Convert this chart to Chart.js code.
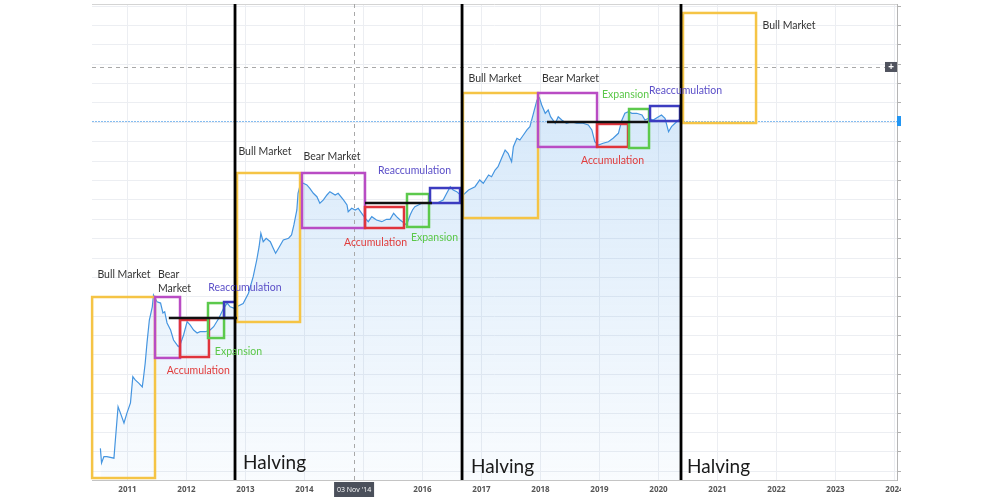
<!DOCTYPE html>
<html><head><meta charset="utf-8">
<script src="https://cdn.jsdelivr.net/npm/chart.js@4.4.0/dist/chart.umd.min.js"></script>
<style>html,body{margin:0;padding:0;background:#fff}#wrap{width:1000px;height:500px}</style>
</head><body><div id="wrap"><canvas id="c" width="1000" height="500"></canvas></div>
<script>
// ---- data (decimal year, price in USD, log scale) ----
const years = [2010.54,2010.56,2010.60,2010.65,2010.77,2010.79,2010.84,2010.88,2010.94,2010.99,
2011.05,2011.09,2011.13,2011.19,2011.25,2011.27,2011.30,2011.33,2011.37,2011.42,2011.44,2011.50,2011.56,2011.60,2011.63,2011.67,2011.73,2011.78,2011.86,2011.89,2011.95,
2012.01,2012.06,2012.12,2012.18,2012.23,2012.32,2012.40,2012.46,2012.55,2012.63,2012.69,2012.74,2012.80,2012.85,2012.96,
2013.05,2013.13,2013.19,2013.23,2013.26,2013.30,2013.35,2013.42,2013.47,2013.51,2013.56,2013.64,2013.73,2013.78,2013.82,2013.87,2013.89,2013.94,2013.98,
2014.04,2014.09,2014.15,2014.21,2014.26,2014.32,2014.38,2014.43,2014.52,2014.57,2014.66,2014.72,2014.74,2014.80,2014.86,2014.91,2014.97,
2015.03,2015.08,2015.14,2015.22,2015.31,2015.39,2015.45,2015.51,2015.56,2015.62,2015.66,2015.73,2015.79,2015.83,2015.87,2015.93,2015.99,
2016.04,2016.13,2016.24,2016.35,2016.41,2016.47,2016.52,2016.58,2016.64,2016.69,2016.78,2016.89,2016.97,
2017.03,2017.12,2017.17,2017.23,2017.28,2017.34,2017.40,2017.45,2017.51,2017.54,2017.60,2017.65,2017.71,2017.77,2017.82,2017.88,2017.94,2017.98,
2018.02,2018.08,2018.13,2018.17,2018.25,2018.30,2018.36,2018.44,2018.53,2018.61,2018.72,2018.81,2018.87,2018.92,2018.98,
2019.06,2019.15,2019.23,2019.32,2019.38,2019.43,2019.49,2019.55,2019.63,2019.72,2019.77,2019.83,2019.91,2020.00,
2020.05,2020.11,2020.17,2020.22,2020.28,2020.34,2020.37];
const prices = [0.071,0.042,0.053,0.053,0.050,0.086,0.315,0.25,0.176,0.25,
0.36,0.92,0.82,0.73,0.64,0.88,1.50,3.07,6.98,11.2,17.1,13.4,12.8,8.98,9.4,6.28,4.89,3.42,2.69,2.86,4.09,
6.58,5.85,4.89,4.39,4.60,4.60,4.89,5.50,7.50,10.7,12.8,11.2,10.7,11.2,12.6,
18.2,32.9,59.7,96,155,115,130,115,91,76,91,122,130,146,209,357,649,982,927,
873,775,649,574,454,511,610,687,610,649,511,427,336,379,357,379,317,
265,235,281,250,235,256,256,317,281,250,235,209,299,357,402,427,454,
454,454,454,511,649,821,730,687,610,610,730,821,1043,
927,1247,1174,1492,1678,2266,3050,2710,2008,3430,4630,4355,5210,6237,7015,11320,18230,19800,
15240,11320,12740,10020,7925,10020,8918,7925,8400,7925,7925,7450,6237,4100,3645,
3875,4100,4630,5535,8918,11320,12000,11320,11320,10670,8918,9470,8918,10020,
10670,9470,5865,7015,7925,8918,8590];
const yearTicks = [2011,2012,2013,2014,2015,2016,2017,2018,2019,2020,2021,2022,2023,2024];
const currentPrice = 8590;
const crossYear = 2014.84, crossPrice = 59300, crossLabel = "03 Nov '14";

// ---- annotations (data coordinates) ----
const halvings = [2012.822, 2016.67, 2020.381];
const boxes = [
 {x0:2010.40,x1:2011.466,lo:0.0246,hi:15.9,c:'#f5c445'},
 {x0:2011.466,x1:2011.89,lo:1.80,hi:15.9,c:'#b94cc4'},
 {x0:2011.89,x1:2012.38,lo:1.86,hi:6.99,c:'#e0343c'},
 {x0:2012.364,x1:2012.636,lo:3.67,hi:12.8,c:'#5cc94c'},
 {x0:2012.636,x1:2012.839,lo:7.50,hi:13.3,c:'#3c3cc0'},
 {x0:2012.856,x1:2013.924,lo:6.51,hi:1340,c:'#f5c445'},
 {x0:2013.958,x1:2015.025,lo:187.5,hi:1340,c:'#b94cc4'},
 {x0:2015.025,x1:2015.686,lo:187.5,hi:397,c:'#e0343c'},
 {x0:2015.737,x1:2016.11,lo:194.5,hi:632,c:'#5cc94c'},
 {x0:2016.127,x1:2016.636,lo:458,hi:783,c:'#3c3cc0'},
 {x0:2016.686,x1:2017.958,lo:268,hi:23400,c:'#f5c445'},
 {x0:2017.958,x1:2018.958,lo:3400,hi:23400,c:'#b94cc4'},
 {x0:2018.958,x1:2019.483,lo:3400,hi:7730,c:'#e0343c'},
 {x0:2019.50,x1:2019.839,lo:3275,hi:13210,c:'#5cc94c'},
 {x0:2019.856,x1:2020.364,lo:8590,hi:14690,c:'#3c3cc0'},
 {x0:2020.415,x1:2021.653,lo:8000,hi:409000,c:'#f5c445'}
];
const levels = [
 {x0:2011.70,x1:2012.856,v:7.50},
 {x0:2015.025,x1:2016.16,v:458},
 {x0:2018.11,x1:2019.822,v:8300}
];
const DARK='#333', RE='#5b4fc8', AC='#e03c3c', EX='#5cc84a';
const notes = [
 {x:2010.94,y:34.9,t:['Bull Market'],c:DARK},
 {x:2011.517,y:34.9,t:['Bear','Market'],c:DARK,align:'left'},
 {x:2012.99,y:21.9,t:['Reaccumulation'],c:RE},
 {x:2012.20,y:1.13,t:['Accumulation'],c:AC},
 {x:2012.88,y:2.23,t:['Expansion'],c:EX},
 {x:2013.33,y:2840,t:['Bull Market'],c:DARK},
 {x:2014.466,y:2370,t:['Bear Market'],c:DARK},
 {x:2015.864,y:1440,t:['Reaccumulation'],c:RE},
 {x:2015.203,y:110,t:['Accumulation'],c:AC},
 {x:2016.203,y:131,t:['Expansion'],c:EX},
 {x:2017.229,y:38600,t:['Bull Market'],c:DARK},
 {x:2018.508,y:38600,t:['Bear Market'],c:DARK},
 {x:2019.441,y:21800,t:['Expansion'],c:EX},
 {x:2020.458,y:25100,t:['Reaccumulation'],c:RE},
 {x:2019.22,y:2055,t:['Accumulation'],c:AC},
 {x:2022.212,y:257000,t:['Bull Market'],c:DARK}
];
const halvingNotes = [
 {x:2012.958,y:0.042,t:'Halving'},
 {x:2016.822,y:0.0365,t:'Halving'},
 {x:2020.483,y:0.0365,t:'Halving'}
];

Chart.defaults.font.family = "'Open Sans', sans-serif";

const annot = {
  id:'annot',
  beforeDatasetsDraw(chart){
    const {ctx, chartArea:a} = chart;
    ctx.save();
    ctx.strokeStyle='#d4d4d4'; ctx.lineWidth=1;
    ctx.beginPath(); ctx.moveTo(a.left,a.top+0.5); ctx.lineTo(a.right,a.top+0.5); ctx.stroke();
    ctx.restore();
  },
  afterDatasetsDraw(chart){
    const {ctx, chartArea:a, scales:{x,y}} = chart;
    ctx.save();
    // current price dotted line
    const py = Math.round(y.getPixelForValue(currentPrice))+0.5;
    ctx.strokeStyle='#86bdf0'; ctx.lineWidth=1; ctx.setLineDash([2,1]);
    ctx.beginPath(); ctx.moveTo(a.left,py); ctx.lineTo(a.right,py); ctx.stroke();
    // crosshair
    const cx = Math.round(x.getPixelForValue(crossYear))+0.5, cy = Math.round(y.getPixelForValue(crossPrice))+0.5;
    ctx.strokeStyle='#a8a8a8'; ctx.setLineDash([4,4]);
    ctx.beginPath(); ctx.moveTo(cx,a.top); ctx.lineTo(cx,a.bottom); ctx.stroke();
    ctx.beginPath(); ctx.moveTo(a.left,cy); ctx.lineTo(a.right-12,cy); ctx.stroke();
    ctx.setLineDash([]);
    // boxes
    ctx.lineWidth=2.5;
    boxes.forEach(b=>{
      const l=x.getPixelForValue(b.x0), r=x.getPixelForValue(b.x1);
      const t=y.getPixelForValue(b.hi), bt=y.getPixelForValue(b.lo);
      ctx.strokeStyle=b.c; ctx.strokeRect(l,t,r-l,bt-t);
    });
    // levels
    ctx.strokeStyle='#111'; ctx.lineWidth=2.5;
    levels.forEach(L=>{
      const yy=y.getPixelForValue(L.v);
      ctx.beginPath(); ctx.moveTo(x.getPixelForValue(L.x0),yy); ctx.lineTo(x.getPixelForValue(L.x1),yy); ctx.stroke();
    });
    // halving lines
    ctx.strokeStyle='#000'; ctx.lineWidth=2.8;
    halvings.forEach(h=>{
      const xx=x.getPixelForValue(h);
      ctx.beginPath(); ctx.moveTo(xx,a.top); ctx.lineTo(xx,a.bottom); ctx.stroke();
    });
    // notes
    ctx.textBaseline='middle';
    notes.forEach(n=>{
      ctx.font="10.5px Lato"; ctx.fillStyle=n.c; ctx.textAlign=n.align||'center';
      const xx=x.getPixelForValue(n.x), yy=y.getPixelForValue(n.y);
      n.t.forEach((s,i)=>ctx.fillText(s,xx,yy+i*14));
    });
    ctx.font="19px Lato"; ctx.fillStyle='#1a1a1a'; ctx.textAlign='left';
    halvingNotes.forEach(n=>ctx.fillText(n.t,x.getPixelForValue(n.x),y.getPixelForValue(n.y)));
    ctx.restore();
  },
  afterDraw(chart){
    const {ctx, chartArea:a, scales:{x,y}} = chart;
    ctx.save();
    const cx = x.getPixelForValue(crossYear), cy = y.getPixelForValue(crossPrice);
    // crosshair date label
    ctx.fillStyle='#4b505b'; ctx.fillRect(cx-20,a.bottom+2,40,15);
    ctx.fillStyle='#fff'; ctx.font="7px 'Open Sans'"; ctx.textAlign='center'; ctx.textBaseline='middle';
    ctx.fillText(crossLabel,cx,a.bottom+9.5);
    // plus box
    ctx.fillStyle='#50535e'; ctx.fillRect(a.right-12,cy-5,12,10);
    ctx.fillStyle='#fff'; ctx.font="bold 10px 'Open Sans'"; ctx.fillText('+',a.right-6,cy);
    // current price marker
    const py = y.getPixelForValue(currentPrice);
    ctx.fillStyle='#2196f3'; ctx.fillRect(a.right,py-5,4,10);
    // cropped edge
    ctx.fillStyle='#fff'; ctx.fillRect(a.right+4,0,1000,500);
    ctx.restore();
  }
};

new Chart(document.getElementById('c'), {
  type:'line',
  data:{datasets:[{
    data: years.map((v,i)=>({x:v,y:prices[i]})),
    borderColor:'#4595e0', borderWidth:1.2, pointRadius:0, tension:0,
    fill:'start',
    backgroundColor:(ctx)=>{
      const a=ctx.chart.chartArea; if(!a) return 'rgba(66,150,230,0.1)';
      const g=ctx.chart.ctx.createLinearGradient(0,a.top,0,a.bottom);
      g.addColorStop(0,'rgba(66,150,230,0.28)');
      g.addColorStop(0.35,'rgba(66,150,230,0.18)');
      g.addColorStop(1,'rgba(66,150,230,0.03)');
      return g;
    }
  }]},
  options:{
    responsive:false, animation:false, devicePixelRatio:1,
    layout:{padding:{left:92,top:4,right:0,bottom:0}},
    plugins:{legend:{display:false},tooltip:{enabled:false}},
    scales:{
      x:{type:'linear',min:2010.398,max:2024.042,
        afterBuildTicks:s=>{s.ticks=yearTicks.map(v=>({value:v}));},
        ticks:{autoSkip:false,maxRotation:0,padding:5,color:'#555',font:{size:8,weight:'bold'},callback:v=>String(v)},
        grid:{color:'#eceef2',drawTicks:false},
        border:{color:'#c4c4c4'},
        afterFit:s=>{s.height=20;}
      },
      y:{type:'logarithmic',position:'right',min:0.02291,max:563600,
        afterBuildTicks:s=>{const t=[];for(let k=-6;k<=19;k++){const v=Math.pow(2,k);if(v>s.min&&v<s.max)t.push({value:v});}s.ticks=t;},
        ticks:{display:false},
        grid:{color:'#eceef2',drawTicks:true,tickLength:4,tickColor:'#b0b0b0'},
        border:{color:'#b5b5b5'},
        afterFit:s=>{s.width=103;}
      }
    }
  },
  plugins:[annot]
});
</script></body></html>
